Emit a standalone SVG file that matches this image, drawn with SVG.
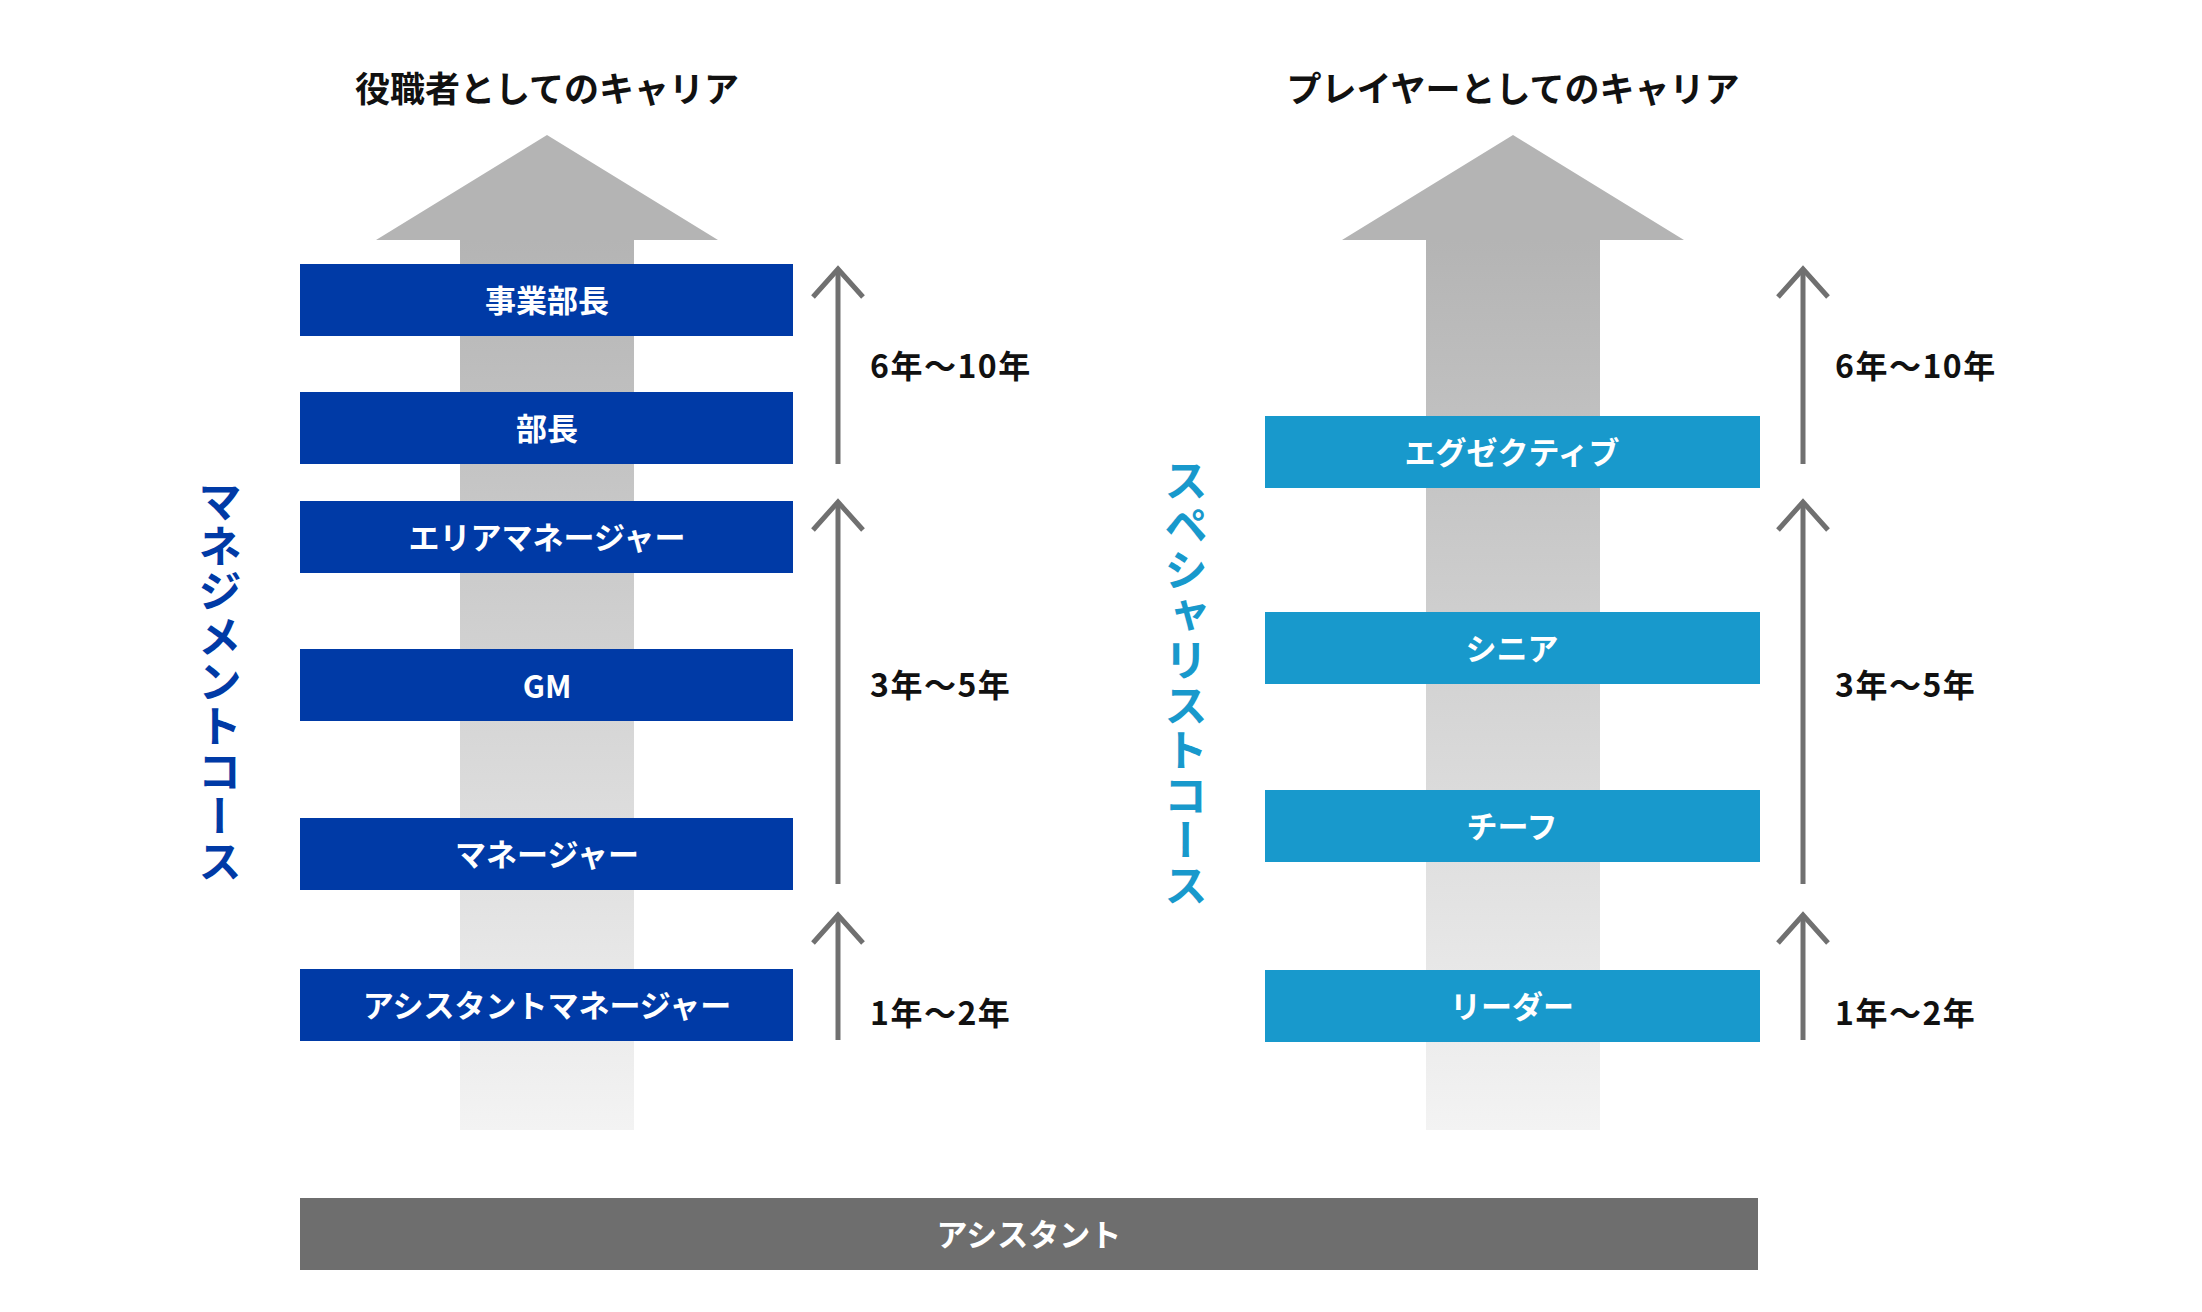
<svg xmlns="http://www.w3.org/2000/svg" width="2202" height="1312" viewBox="0 0 2202 1312">
<style>
text{font-family:"Noto Sans CJK JP","Noto Sans",sans-serif;font-weight:700}
.title{font-size:35px;fill:#111111;text-anchor:middle;dominant-baseline:central}
.lbl{font-size:31px;fill:#ffffff;text-anchor:middle;dominant-baseline:central}
.yr{font-size:32px;fill:#111111;dominant-baseline:central;letter-spacing:1.5px}
.mg{fill:#003aa6}
.sp{fill:#1899cc}
.vt{font-size:44px;writing-mode:vertical-rl;text-anchor:middle;letter-spacing:1px}
.tl{fill:none;stroke:#707070;stroke-width:5}
</style>
<defs>
<linearGradient id="g" gradientUnits="userSpaceOnUse" x1="0" y1="135" x2="0" y2="1130">
<stop offset="0" stop-color="#b4b4b4"/>
<stop offset="0.1055" stop-color="#b4b4b4"/>
<stop offset="1" stop-color="#f3f3f3"/>
</linearGradient>
<path id="tip" d="M-25,28 L0,0 L25,28"/>
</defs>
<rect width="2202" height="1312" fill="#ffffff"/>
<g id="titles">
<text class="title" x="547" y="86">役職者としてのキャリア</text>
<text class="title" x="1513" y="86">プレイヤーとしてのキャリア</text>
</g>
<g id="big-arrows">
<path d="M547,135 L718,240 L634,240 L634,1130 L460,1130 L460,240 L376,240 Z" fill="url(#g)"/>
<path d="M1513,135 L1684,240 L1600,240 L1600,1130 L1426,1130 L1426,240 L1342,240 Z" fill="url(#g)"/>
</g>
<g id="connectors">
<line class="tl" x1="838" y1="464" x2="838" y2="271"/><use href="#tip" class="tl" x="838" y="269"/>
<line class="tl" x1="838" y1="884" x2="838" y2="504"/><use href="#tip" class="tl" x="838" y="502"/>
<line class="tl" x1="838" y1="1040" x2="838" y2="917"/><use href="#tip" class="tl" x="838" y="915"/>
<line class="tl" x1="1803" y1="464" x2="1803" y2="271"/><use href="#tip" class="tl" x="1803" y="269"/>
<line class="tl" x1="1803" y1="884" x2="1803" y2="504"/><use href="#tip" class="tl" x="1803" y="502"/>
<line class="tl" x1="1803" y1="1040" x2="1803" y2="917"/><use href="#tip" class="tl" x="1803" y="915"/>
</g>
<g id="year-labels">
<text class="yr" x="870" y="364">6年〜10年</text>
<text class="yr" x="870" y="683">3年〜5年</text>
<text class="yr" x="870" y="1011">1年〜2年</text>
<text class="yr" x="1835" y="364">6年〜10年</text>
<text class="yr" x="1835" y="683">3年〜5年</text>
<text class="yr" x="1835" y="1011">1年〜2年</text>
</g>
<g id="management-course">
<text class="vt mg" x="220" y="682">マネジメントコース</text>
</g>
<g id="specialist-course">
<text class="vt sp" x="1186" y="683">スペシャリストコース</text>
</g>
<g id="n-jigyobucho"><rect class="mg" x="300" y="264" width="493" height="72"/><text class="lbl" x="547" y="298">事業部長</text></g>
<g id="n-bucho"><rect class="mg" x="300" y="392" width="493" height="72"/><text class="lbl" x="547" y="426">部長</text></g>
<g id="n-area"><rect class="mg" x="300" y="501" width="493" height="72"/><text class="lbl" x="547" y="535">エリアマネージャー</text></g>
<g id="n-gm"><rect class="mg" x="300" y="649" width="493" height="72"/><text class="lbl" x="547" y="684">GM</text></g>
<g id="n-manager"><rect class="mg" x="300" y="818" width="493" height="72"/><text class="lbl" x="547" y="852">マネージャー</text></g>
<g id="n-asst-manager"><rect class="mg" x="300" y="969" width="493" height="72"/><text class="lbl" x="547" y="1003">アシスタントマネージャー</text></g>
<g id="n-executive"><rect class="sp" x="1265" y="416" width="495" height="72"/><text class="lbl" x="1512" y="450">エグゼクティブ</text></g>
<g id="n-senior"><rect class="sp" x="1265" y="612" width="495" height="72"/><text class="lbl" x="1512" y="646">シニア</text></g>
<g id="n-chief"><rect class="sp" x="1265" y="790" width="495" height="72"/><text class="lbl" x="1512" y="824">チーフ</text></g>
<g id="n-leader"><rect class="sp" x="1265" y="970" width="495" height="72"/><text class="lbl" x="1512" y="1004">リーダー</text></g>
<g id="n-assistant"><rect x="300" y="1198" width="1458" height="72" fill="#6e6e6e"/><text class="lbl" x="1029" y="1232">アシスタント</text></g>
</svg>
